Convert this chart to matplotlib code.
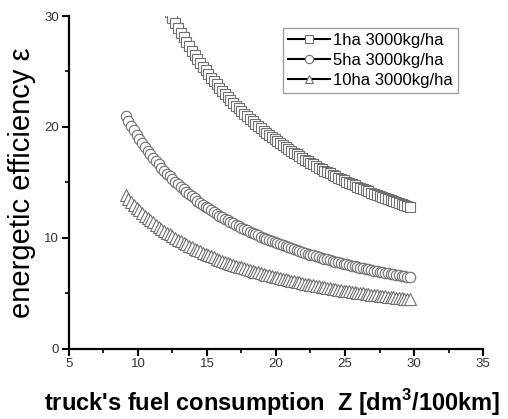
import matplotlib
matplotlib.use("Agg")
import matplotlib.pyplot as plt
from matplotlib.ticker import MultipleLocator

plt.rcParams['font.family'] = ['Liberation Sans', 'DejaVu Sans']
plt.rcParams['mathtext.fontset'] = 'custom'
plt.rcParams['mathtext.rm'] = 'Liberation Sans'
plt.rcParams['mathtext.bf'] = 'Liberation Sans:bold'

# Fuel consumption Z [dm3/100km]
z = [9.1, 9.3, 9.5, 9.7, 9.9, 10.1, 10.3, 10.5, 10.7, 10.9,
     11.1, 11.3, 11.5, 11.7, 11.9, 12.1, 12.3, 12.5, 12.7, 12.9,
     13.1, 13.3, 13.5, 13.7, 13.9, 14.1, 14.3, 14.5, 14.7, 14.9,
     15.1, 15.3, 15.5, 15.7, 15.9, 16.1, 16.3, 16.5, 16.7, 16.9,
     17.1, 17.3, 17.5, 17.7, 17.9, 18.1, 18.3, 18.5, 18.7, 18.9,
     19.1, 19.3, 19.5, 19.7, 19.9, 20.1, 20.3, 20.5, 20.7, 20.9,
     21.1, 21.3, 21.5, 21.7, 21.9, 22.1, 22.3, 22.5, 22.7, 22.9,
     23.1, 23.3, 23.5, 23.7, 23.9, 24.1, 24.3, 24.5, 24.7, 24.9,
     25.1, 25.3, 25.5, 25.7, 25.9, 26.1, 26.3, 26.5, 26.7, 26.9,
     27.1, 27.3, 27.5, 27.7, 27.9, 28.1, 28.3, 28.5, 28.7, 28.9,
     29.1, 29.3, 29.5, 29.7]

# 1ha 3000kg/ha (visible part, starting at Z = 12.3)
z_1ha = z[16:]
eps_1ha = [30.32, 29.84, 29.38, 28.93, 28.49, 28.07, 27.66, 27.26, 26.87, 26.50,
           26.13, 25.78, 25.44, 25.10, 24.77, 24.45, 24.14, 23.84, 23.54, 23.26,
           22.98, 22.70, 22.44, 22.17, 21.92, 21.67, 21.43, 21.19, 20.96, 20.73,
           20.51, 20.29, 20.08, 19.87, 19.67, 19.47, 19.27, 19.08, 18.89, 18.71,
           18.53, 18.35, 18.18, 18.01, 17.84, 17.68, 17.52, 17.36, 17.20, 17.05,
           16.90, 16.75, 16.61, 16.47, 16.33, 16.19, 16.06, 15.93, 15.80, 15.67,
           15.54, 15.42, 15.30, 15.18, 15.06, 14.95, 14.83, 14.72, 14.61, 14.50,
           14.39, 14.29, 14.18, 14.08, 13.98, 13.88, 13.78, 13.68, 13.59, 13.50,
           13.41, 13.31, 13.22, 13.13, 13.04, 12.96, 12.88, 12.79]

# 5ha 3000kg/ha
eps_5ha = [20.99, 20.54, 20.10, 19.69, 19.29, 18.91, 18.54, 18.19, 17.85, 17.52,
           17.21, 16.90, 16.61, 16.32, 16.05, 15.78, 15.53, 15.28, 15.04, 14.81,
           14.58, 14.36, 14.15, 13.94, 13.74, 13.55, 13.36, 13.17, 12.99, 12.82,
           12.65, 12.48, 12.32, 12.16, 12.01, 11.86, 11.72, 11.58, 11.44, 11.30,
           11.17, 11.04, 10.91, 10.79, 10.67, 10.55, 10.44, 10.32, 10.21, 10.11,
           10.00, 9.90, 9.79, 9.70, 9.60, 9.50, 9.41, 9.32, 9.23, 9.14,
           9.05, 8.97, 8.88, 8.80, 8.72, 8.64, 8.56, 8.49, 8.41, 8.34,
           8.27, 8.20, 8.13, 8.06, 7.99, 7.92, 7.86, 7.80, 7.73, 7.67,
           7.61, 7.55, 7.49, 7.43, 7.37, 7.32, 7.26, 7.21, 7.15, 7.10,
           7.05, 7.00, 6.94, 6.90, 6.85, 6.80, 6.75, 6.70, 6.65, 6.61,
           6.56, 6.52, 6.47, 6.43]

# 10ha 3000kg/ha
eps_10ha = [13.82, 13.53, 13.25, 12.98, 12.72, 12.48, 12.24, 12.01, 11.80, 11.58,
            11.38, 11.19, 11.00, 10.81, 10.64, 10.46, 10.30, 10.14, 9.99, 9.83,
            9.69, 9.55, 9.41, 9.28, 9.15, 9.02, 8.90, 8.78, 8.67, 8.55,
            8.45, 8.34, 8.24, 8.13, 8.04, 7.94, 7.85, 7.76, 7.67, 7.58,
            7.49, 7.41, 7.33, 7.25, 7.17, 7.10, 7.02, 6.95, 6.88, 6.81,
            6.74, 6.67, 6.61, 6.54, 6.48, 6.42, 6.36, 6.30, 6.24, 6.19,
            6.13, 6.07, 6.02, 5.97, 5.92, 5.87, 5.82, 5.77, 5.72, 5.67,
            5.62, 5.58, 5.53, 5.49, 5.45, 5.40, 5.36, 5.32, 5.28, 5.24,
            5.20, 5.16, 5.12, 5.09, 5.05, 5.01, 4.98, 4.94, 4.91, 4.87,
            4.84, 4.81, 4.77, 4.74, 4.71, 4.68, 4.65, 4.62, 4.59, 4.56,
            4.53, 4.50, 4.47, 4.44]

labels = ['1ha 3000kg/ha', '5ha 3000kg/ha', '10ha 3000kg/ha']

fig = plt.figure(figsize=(5.08, 4.19), dpi=100)
ax = fig.add_axes([0.1358, 0.1678, 0.815, 0.794])

edge = '#707070'
common = dict(color='black', lw=1.5, mfc='white', mec=edge, mew=0.8)
ax.plot(z_1ha, eps_1ha, marker='s', ms=6.5, label=labels[0], **common)
ax.plot(z, eps_5ha, marker='o', ms=7.5, label=labels[1], **common)
ax.plot(z, eps_10ha, marker='^', ms=8, label=labels[2], **common)

ax.set_xlim(5, 35)
ax.set_ylim(0, 30)
ax.xaxis.set_major_locator(MultipleLocator(5))
ax.xaxis.set_minor_locator(MultipleLocator(2.5))
ax.yaxis.set_major_locator(MultipleLocator(10))
ax.yaxis.set_minor_locator(MultipleLocator(5))

for s in ['top', 'right']:
    ax.spines[s].set_visible(False)
for s in ['left', 'bottom']:
    ax.spines[s].set_linewidth(1.6)

ax.tick_params(which='major', direction='out', length=5, width=1.5,
               labelsize=9.5, labelcolor='#333333', pad=2)
ax.tick_params(which='minor', direction='out', length=3, width=1.2)

ax.set_ylabel('energetic efficiency ε', fontsize=21, labelpad=6)
xl = ax.set_xlabel(r"truck's fuel consumption  Z [dm$^{\mathbf{3}}$/100km]",
                   fontsize=17, fontweight='bold', labelpad=11)
ax.xaxis.set_label_coords(0.49, -0.115)

leg = ax.legend(loc='upper left', bbox_to_anchor=(0.518, 0.963), fontsize=12,
                frameon=True, fancybox=False, handlelength=2.5,
                handletextpad=0.2, labelspacing=0.3, borderpad=0.3,
                borderaxespad=0, markerscale=0.8)
leg.get_frame().set_edgecolor('#888888')
leg.get_frame().set_linewidth(1.0)

fig.savefig('out.png', dpi=100)
